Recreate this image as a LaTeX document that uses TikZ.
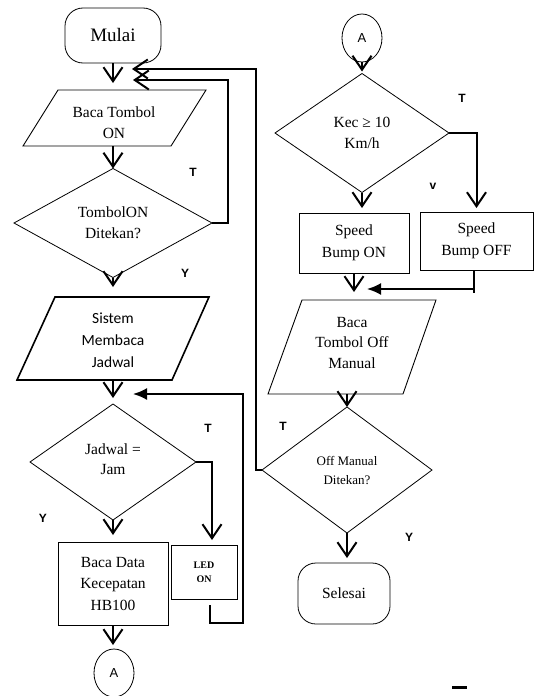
\documentclass[tikz,border=0pt]{standalone}
\usepackage{fontspec}
\setmainfont{Liberation Serif}
\newfontfamily\sansf{Liberation Sans}
\newfontfamily\carl{Carlito}
\usetikzlibrary{arrows.meta,shapes.geometric,calc}
\begin{document}
\begin{tikzpicture}[x=1pt,y=-1pt,
  box/.style={draw, line width=0.9pt, inner sep=0pt, outer sep=0pt, align=center, font=\fontsize{15.5}{21.5}\selectfont},
  term/.style={box, rounded corners=18pt, line width=0.8pt},
  dia/.style={draw, diamond, line width=0.8pt, inner sep=0pt, outer sep=0pt, align=center, font=\fontsize{15.5}{21}\selectfont},
  circ/.style={draw, ellipse, line width=0.8pt, minimum width=40pt, minimum height=48pt, inner sep=0pt, outer sep=0pt, font=\sansf\fontsize{13}{13}\selectfont},
  para/.style={draw, line width=0.9pt},
  txt/.style={align=center, inner sep=0pt, font=\fontsize{15.5}{21.5}\selectfont},
  lbl/.style={font=\sansf\bfseries\fontsize{12}{12}\selectfont, inner sep=0pt},
  arr/.style={line width=2pt, -{Straight Barb[length=14pt,width=19pt]}},
  arrF/.style={line width=2pt, -{Latex[length=14pt,width=12pt]}},
  ln/.style={line width=2pt}
]
\useasboundingbox (0,0) rectangle (536,696);

% ---------- left column ----------
\node[term, minimum width=96pt, minimum height=55pt, font=\fontsize{19}{19}\selectfont] (mulai) at (113,35.5) {Mulai};

\draw[para] (58,90) -- (206,90) -- (171,146) -- (23,146) -- cycle;
\node[txt] (bt) at (114,122.5) {Baca Tombol\\ON};
\coordinate (bt-n) at (113,90);
\coordinate (bt-s) at (113,146);

\node[dia, minimum width=198pt, minimum height=109pt] (d1) at (113,223) {TombolON\\Ditekan?};

\draw[para, line width=1.6pt] (55,297) -- (209,297) -- (172,380) -- (17,380) -- cycle;
\node[txt, font=\carl\fontsize{15.5}{22}\selectfont] (sis) at (113,340) {Sistem\\Membaca\\Jadwal};
\coordinate (sis-n) at (113,297);
\coordinate (sis-s) at (113,380);

\node[dia, minimum width=166pt, minimum height=116pt] (d2) at (113,462) {};
\node[txt, font=\fontsize{15.5}{20}\selectfont] (d2t) at (113,459) {Jadwal =\\Jam};

\node[box, minimum width=110pt, minimum height=83pt] (bd) at (113,583.5) {Baca Data\\Kecepatan\\HB100};
\node[box, minimum width=66pt, minimum height=54pt, font=\bfseries\fontsize{10}{14}\selectfont] (led) at (204,572) {LED\\ON};

\node[circ] (a1) at (114,673) {A};

% ---------- right column ----------
\node[circ] (a2) at (362,38) {A};
\node[dia, minimum width=174pt, minimum height=119pt] (d3) at (362,133) {Kec ≥ 10\\Km/h};
\node[box, minimum width=110pt, minimum height=60pt] (spon) at (354,243) {Speed\\Bump ON};
\node[box, minimum width=113pt, minimum height=58pt] (spoff) at (476.5,241) {Speed\\Bump OFF};

\draw[para] (302,300) -- (436,300) -- (403,394) -- (268,394) -- cycle;
\node[txt, font=\fontsize{15.5}{20.5}\selectfont] (bo) at (352,342.5) {Baca\\Tombol Off\\Manual};
\coordinate (bo-n) at (353,300);
\coordinate (bo-s) at (347,394);

\node[dia, minimum width=170pt, minimum height=126pt] (d4) at (347,470) {};
\node[txt, font=\fontsize{13}{19}\selectfont] (d4t) at (347,470.5) {Off Manual\\Ditekan?};

\node[term, minimum width=92pt, minimum height=61pt] (sel) at (344,593.5) {Selesai};

% ---------- connectors ----------
\draw[arr, shorten >=7pt] (mulai.south) -- (bt-n);
\draw[arr] (bt-s) -- (d1.north);
\draw[arr, shorten >=10pt] (d1.south) -- (sis-n);
\draw[arr, shorten >=6pt] (sis-s) -- (d2.north);
\draw[arr, shorten >=7pt] (d2.south) -- (bd.north);
\draw[arr, shorten >=4pt] (bd.south) -- (bd.south |- a1.north);

\coordinate (j1) at (212,462);
\draw[arr, shorten >=5pt] (d2.east) -- (j1) -- (j1 |- led.north);

\coordinate (l1) at (210,605);
\coordinate (l2) at (243,623);
\coordinate (l3) at (243,394);
\coordinate (ja) at (113,394);
\draw[arrF, shorten >=20pt] (l1) |- (l2) -- (l3) -- (ja);

\coordinate (k1) at (228,80);
\draw[arr, shorten >=20pt] (d1.east) -| (k1) -- (k1 -| mulai.south);
\coordinate (k2) at (256,69);
\draw[arr, shorten >=19pt] (d4.west) -| (k2) -- (k2 -| mulai.south);

\draw[arr, shorten >=2pt] (a2.south) -- (d3.north);
\draw[arr, shorten >=5pt] (d3.south) -- (d3.south |- spon.north);
\draw[arr, shorten >=4pt] (d3.east) -| (spoff.north);
\draw[arr, shorten >=8pt] (spon.south) -- (spon.south |- bo-n);

\coordinate (m1) at (474,293);
\coordinate (m2) at (474,289);
\draw[ln] (m1 |- spoff.south) -- (m1);
\draw[arrF, shorten >=13pt] (m2) -- (m2 -| spon.south);

\draw[arr] (bo-s) -- (d4.north);
\draw[arr, shorten >=5pt] (d4.south) -- (d4.south |- sel.north);

% ---------- labels ----------
\node[lbl] (t1) at (193,172) {T};
\node[lbl] (y1) at (185,273) {Y};
\node[lbl] (t2) at (208,428) {T};
\node[lbl] (y2) at (43,518) {Y};
\node[lbl] (t3) at (462,98) {T};
\node[lbl] (v1) at (433,186) {v};
\node[lbl] (t4) at (283,426) {T};
\node[lbl] (y3) at (409,537) {Y};

\draw[line width=3pt] (452,687) -- (467,687);
\end{tikzpicture}
\end{document}
